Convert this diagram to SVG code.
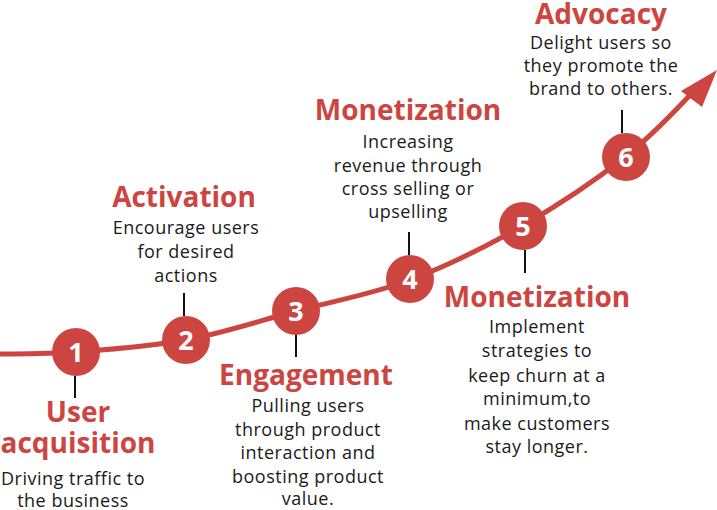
<svg xmlns="http://www.w3.org/2000/svg" width="717" height="510" viewBox="0 0 717 510">
<style>
.title{font-family:"Open Sans","Liberation Sans",sans-serif;font-weight:700;font-size:28px;fill:#cd4540;text-anchor:middle}
.body{font-family:"Open Sans","Liberation Sans",sans-serif;font-size:18px;letter-spacing:0.5px;fill:#1a1a1a;text-anchor:middle}
.num{font-family:"Open Sans","Liberation Sans",sans-serif;font-weight:700;font-size:27px;fill:#ffffff;text-anchor:middle}
.dot{fill:#cd4540}
.tick{stroke:#111;stroke-width:2}
</style>
<rect width="717" height="510" fill="#ffffff"/>
<g id="connectors">
<path d="M0,354 C12.5,353.7 44,354.3 75,352 C106,349.7 149.2,346.8 186,340 C222.8,333.2 258.7,321 296,311 C333.3,301 372.3,294.2 410,280 C447.7,265.8 486.2,246.5 522,226 C557.8,205.5 593.3,182 625,157 C656.7,132 680,105 697,88" fill="none" stroke="#cd4540" stroke-width="5"/>
<polygon points="717,70 681,91 702,107" fill="#cd4540"/>
<line class="tick" x1="75" y1="376" x2="75" y2="398"/>
<line class="tick" x1="184" y1="293" x2="184" y2="316"/>
<line class="tick" x1="296" y1="335" x2="296" y2="357"/>
<line class="tick" x1="409" y1="232" x2="409" y2="255"/>
<line class="tick" x1="525" y1="250" x2="525" y2="273"/>
<line class="tick" x1="622" y1="110" x2="622" y2="133"/>
</g>
<g id="node1">
<circle class="dot" cx="76" cy="352" r="24"/>
<text class="num" x="76" y="362">1</text>
<text class="title" x="78" y="422">User</text>
<text class="title" x="78" y="453">acquisition</text>
<text class="body" x="73" y="485">Driving traffic to</text>
<text class="body" x="73" y="507">the business</text>
</g>
<g id="node2">
<circle class="dot" cx="186" cy="340" r="24"/>
<text class="num" x="186" y="350">2</text>
<text class="title" x="184" y="207">Activation</text>
<text class="body" x="186" y="234">Encourage users</text>
<text class="body" x="186" y="258">for desired</text>
<text class="body" x="186" y="282">actions</text>
</g>
<g id="node3">
<circle class="dot" cx="296" cy="311" r="24"/>
<text class="num" x="296" y="321">3</text>
<text class="title" x="306" y="385">Engagement</text>
<text class="body" x="308" y="412">Pulling users</text>
<text class="body" x="308" y="436">through product</text>
<text class="body" x="308" y="459">interaction and</text>
<text class="body" x="308" y="483">boosting product</text>
<text class="body" x="308" y="505">value.</text>
</g>
<g id="node4">
<circle class="dot" cx="410" cy="279" r="24"/>
<text class="num" x="410" y="289">4</text>
<text class="title" x="408" y="120">Monetization</text>
<text class="body" x="408" y="148">Increasing</text>
<text class="body" x="408" y="172">revenue through</text>
<text class="body" x="408" y="195">cross selling or</text>
<text class="body" x="408" y="218">upselling</text>
</g>
<g id="node5">
<circle class="dot" cx="523" cy="226" r="24"/>
<text class="num" x="523" y="236">5</text>
<text class="title" x="537" y="307">Monetization</text>
<text class="body" x="537" y="333">Implement</text>
<text class="body" x="537" y="357">strategies to</text>
<text class="body" x="537" y="382">keep churn at a</text>
<text class="body" x="537" y="405">minimum,to</text>
<text class="body" x="537" y="430">make customers</text>
<text class="body" x="537" y="453">stay longer.</text>
</g>
<g id="node6">
<circle class="dot" cx="626" cy="157" r="24"/>
<text class="num" x="626" y="167">6</text>
<text class="title" x="601" y="24">Advocacy</text>
<text class="body" x="601" y="49">Delight users so</text>
<text class="body" x="601" y="72">they promote the</text>
<text class="body" x="601" y="95">brand to others.</text>
</g>
</svg>
